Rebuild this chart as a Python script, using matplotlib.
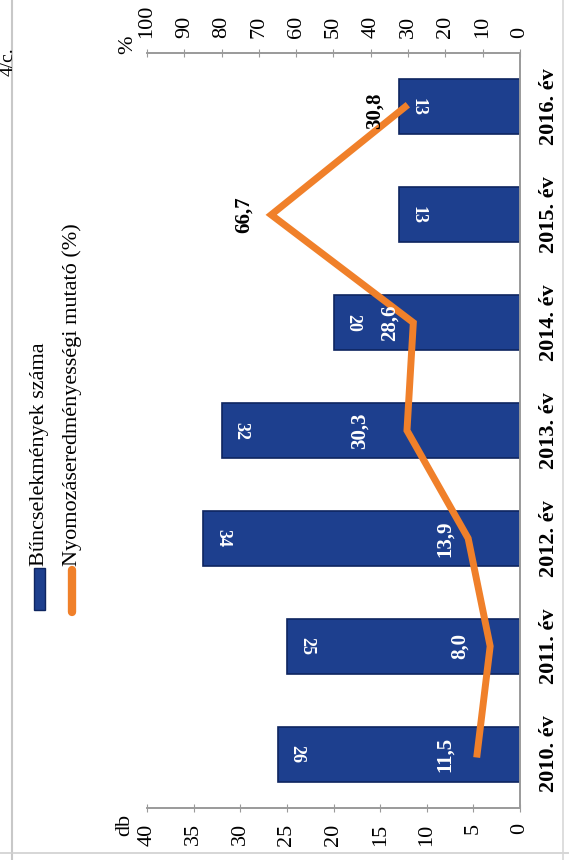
import numpy as np
import matplotlib
matplotlib.use('Agg')
import matplotlib.pyplot as plt
from matplotlib.patches import Rectangle
from matplotlib.lines import Line2D

plt.rcParams['font.family'] = ['Liberation Serif', 'DejaVu Serif']

years = ['2010. év', '2011. év', '2012. év', '2013. év', '2014. év', '2015. év', '2016. év']
crimes = [26, 25, 34, 32, 20, 13, 13]
rate = [11.5, 8.0, 13.9, 30.3, 28.6, 66.7, 30.8]
rate_labels = ['11,5', '8,0', '13,9', '30,3', '28,6', '66,7', '30,8']
db_ticks = [0, 5, 10, 15, 20, 25, 30, 35, 40]
pct_ticks = [0, 10, 20, 30, 40, 50, 60, 70, 80, 90, 100]

blue = '#1d3f8e'
orange = '#f0802a'
grey = '#9a9a9a'

W, H = 569, 860
fig = plt.figure(figsize=(W / 100, H / 100), dpi=100)
ax = fig.add_axes([147 / W, 1 - 808 / H, (520 - 147) / W, (808 - 53) / H])

pos = np.arange(len(years))
ax.barh(pos, crimes, height=0.51, color=blue, edgecolor='#0e2560', linewidth=1.2, zorder=2)
ax.set_xlim(40, 0)
ax.set_ylim(-0.5, len(years) - 0.5)

# bar value labels, written top-to-bottom near the bar end
for p, v in zip(pos, crimes):
    ax.annotate(str(v), (v, p), xytext=(14, 0), textcoords='offset points',
                rotation=-90, ha='center', va='center', color='white',
                fontsize=13, fontweight='bold', zorder=4)

ax.set_xticks(db_ticks)
ax.set_xticklabels([str(t) for t in db_ticks], rotation=90, fontsize=16)
ax.yaxis.tick_right()
ax.set_yticks(pos)
ax.set_yticklabels(years, rotation=90, fontsize=16, fontweight='bold', va='center')
ax.tick_params(axis='y', length=0, pad=14)
ax.tick_params(axis='x', direction='inout', length=6, color=grey, pad=8)
ax.spines['left'].set_visible(False)
for s in ['right', 'bottom', 'top']:
    ax.spines[s].set_color(grey)
    ax.spines[s].set_linewidth(1.2)

ax2 = ax.twiny()
ax2.set_xlim(100, 0)
ax2.plot(rate, pos, color=orange, linewidth=5, solid_joinstyle='miter', zorder=3)
ax2.set_xticks(pct_ticks)
ax2.set_xticklabels([str(t) for t in pct_ticks], rotation=90, fontsize=16)
ax2.tick_params(axis='x', direction='inout', length=6, color=grey, pad=8)
ax2.spines['left'].set_visible(False)
for s in ['right', 'bottom', 'top']:
    ax2.spines[s].set_color(grey)
    ax2.spines[s].set_linewidth(1.2)

# rate labels: offsets in points (white inside the bars, black outside)
offs = [(-23, 0), (-22, 0), (-17, 0), (-34, 0), (-17, 0), (-20, 0), (-22, -3)]
cols = ['white', 'white', 'white', 'white', 'white', 'black', 'black']
for p, v, t, o, c in zip(pos, rate, rate_labels, offs, cols):
    ax2.annotate(t, (v, p), xytext=o, textcoords='offset points', rotation=90,
                 ha='center', va='center', color=c, fontsize=15,
                 fontweight='bold', zorder=5)

fig.text(125 / W, 1 - 825 / H, 'db', rotation=90, fontsize=16, ha='center', va='center')
fig.text(128 / W, 1 - 45 / H, '%', rotation=90, fontsize=16, ha='center', va='center')

# legend drawn by hand, rotated like the chart
fig.patches.append(Rectangle((34 / W, 1 - 610 / H), 11 / W, 42 / H, transform=fig.transFigure,
                             facecolor=blue, edgecolor='#0e2560'))
fig.lines.append(Line2D([72 / W, 72 / W], [1 - 612 / H, 1 - 570 / H], transform=fig.transFigure,
                        color=orange, linewidth=6, solid_capstyle='round'))
fig.text(40 / W, 1 - 566 / H, 'Bűncselekmények száma', rotation=90, fontsize=16,
         ha='center', va='bottom')
fig.text(72 / W, 1 - 566 / H, 'Nyomozáseredményességi mutató (%)', rotation=90, fontsize=16,
         ha='center', va='bottom')

# scanned page frame and caption fragment
fig.lines.append(Line2D([12 / W, 12 / W], [0, 1], transform=fig.transFigure, color='#c8c8c8', linewidth=1.5))
fig.lines.append(Line2D([0, 1], [1 - 853 / H, 1 - 853 / H], transform=fig.transFigure, color='#d0d0d0', linewidth=1.2))
fig.lines.append(Line2D([563 / W, 563 / W], [0, 1], transform=fig.transFigure, color='#d8d8d8', linewidth=1.2))
fig.text(8 / W, 1 - 62 / H, '4/c.', rotation=90, fontsize=14, ha='center', va='center')

fig.savefig('out.png', dpi=100)
